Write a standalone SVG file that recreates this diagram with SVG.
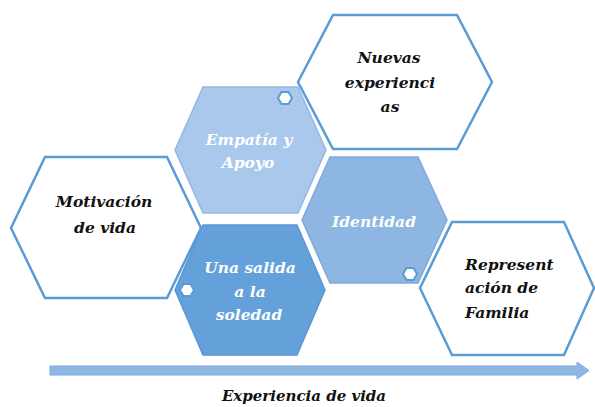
<svg xmlns="http://www.w3.org/2000/svg" width="595" height="407" viewBox="0 0 595 407">
<style>
.w{fill:#ffffff;stroke:#5b9bd5;stroke-width:2.5;stroke-linejoin:miter}
.c1{fill:#a9c8eb;stroke:#93b8e2;stroke-width:1.5}
.c2{fill:#8db6e2;stroke:#7eaadc;stroke-width:1.5}
.c3{fill:#64a0da;stroke:#5b96d2;stroke-width:1.5}
.sm{fill:#ffffff;stroke:#5b9bd5;stroke-width:2}
.dk{fill:#111111}
.lt{fill:#ffffff}
</style>
<rect width="595" height="407" fill="#ffffff"/>
<g font-family="'DejaVu Serif', serif" font-style="italic" font-weight="bold" font-size="15.5">
<g id="node-empatia">
<polygon class="c1" points="175,150 203,87 298,87 326,150 298,213 203,213"/>
<polygon class="sm" points="278,98 281.5,92 288.5,92 292,98 288.5,104 281.5,104"/>
<text class="lt" text-anchor="middle" x="249" y="145">Empatía y</text>
<text class="lt" text-anchor="middle" x="248" y="168">Apoyo</text>
</g>
<g id="node-salida">
<polygon class="c3" points="175,290 203,225 297,225 325,290 297,355 203,355"/>
<polygon class="sm" points="180,290 183.5,284 190.5,284 194,290 190.5,296 183.5,296"/>
<text class="lt" text-anchor="middle" x="250" y="273">Una salida</text>
<text class="lt" text-anchor="middle" x="250" y="297">a la</text>
<text class="lt" text-anchor="middle" x="249" y="320">soledad</text>
</g>
<g id="node-identidad">
<polygon class="c2" points="302,220 330,157 418,157 447,220 418,283 330,283"/>
<polygon class="sm" points="403,274 406.5,268 413.5,268 417,274 413.5,280 406.5,280"/>
<text class="lt" text-anchor="middle" x="374" y="227">Identidad</text>
</g>
<g id="node-motivacion">
<polygon class="w" points="11,228 45,157 167,157 201,228 167,298 45,298"/>
<text class="dk" text-anchor="middle" x="104" y="207">Motivación</text>
<text class="dk" text-anchor="middle" x="105" y="233">de vida</text>
</g>
<g id="node-nuevas">
<polygon class="w" points="298,82 333,15 457,15 492,82 457,149 333,149"/>
<text class="dk" text-anchor="middle" x="389" y="63">Nuevas</text>
<text class="dk" text-anchor="middle" x="390" y="88">experienci</text>
<text class="dk" text-anchor="middle" x="390" y="112">as</text>
</g>
<g id="node-representacion">
<polygon class="w" points="420,288 452,222 564,222 594,288 564,355 452,355"/>
<text class="dk" x="465" y="270">Represent</text>
<text class="dk" x="465" y="293">ación de</text>
<text class="dk" x="465" y="318">Familia</text>
</g>
<g id="connectors">
<polygon points="50,366 577,366 577,362 589,370.5 577,379 577,375 50,375" fill="#8fb7e3" stroke="#7aa8da" stroke-width="1"/>
</g>
<text class="dk" text-anchor="middle" x="304" y="401" font-size="15">Experiencia de vida</text>
</g>
</svg>
